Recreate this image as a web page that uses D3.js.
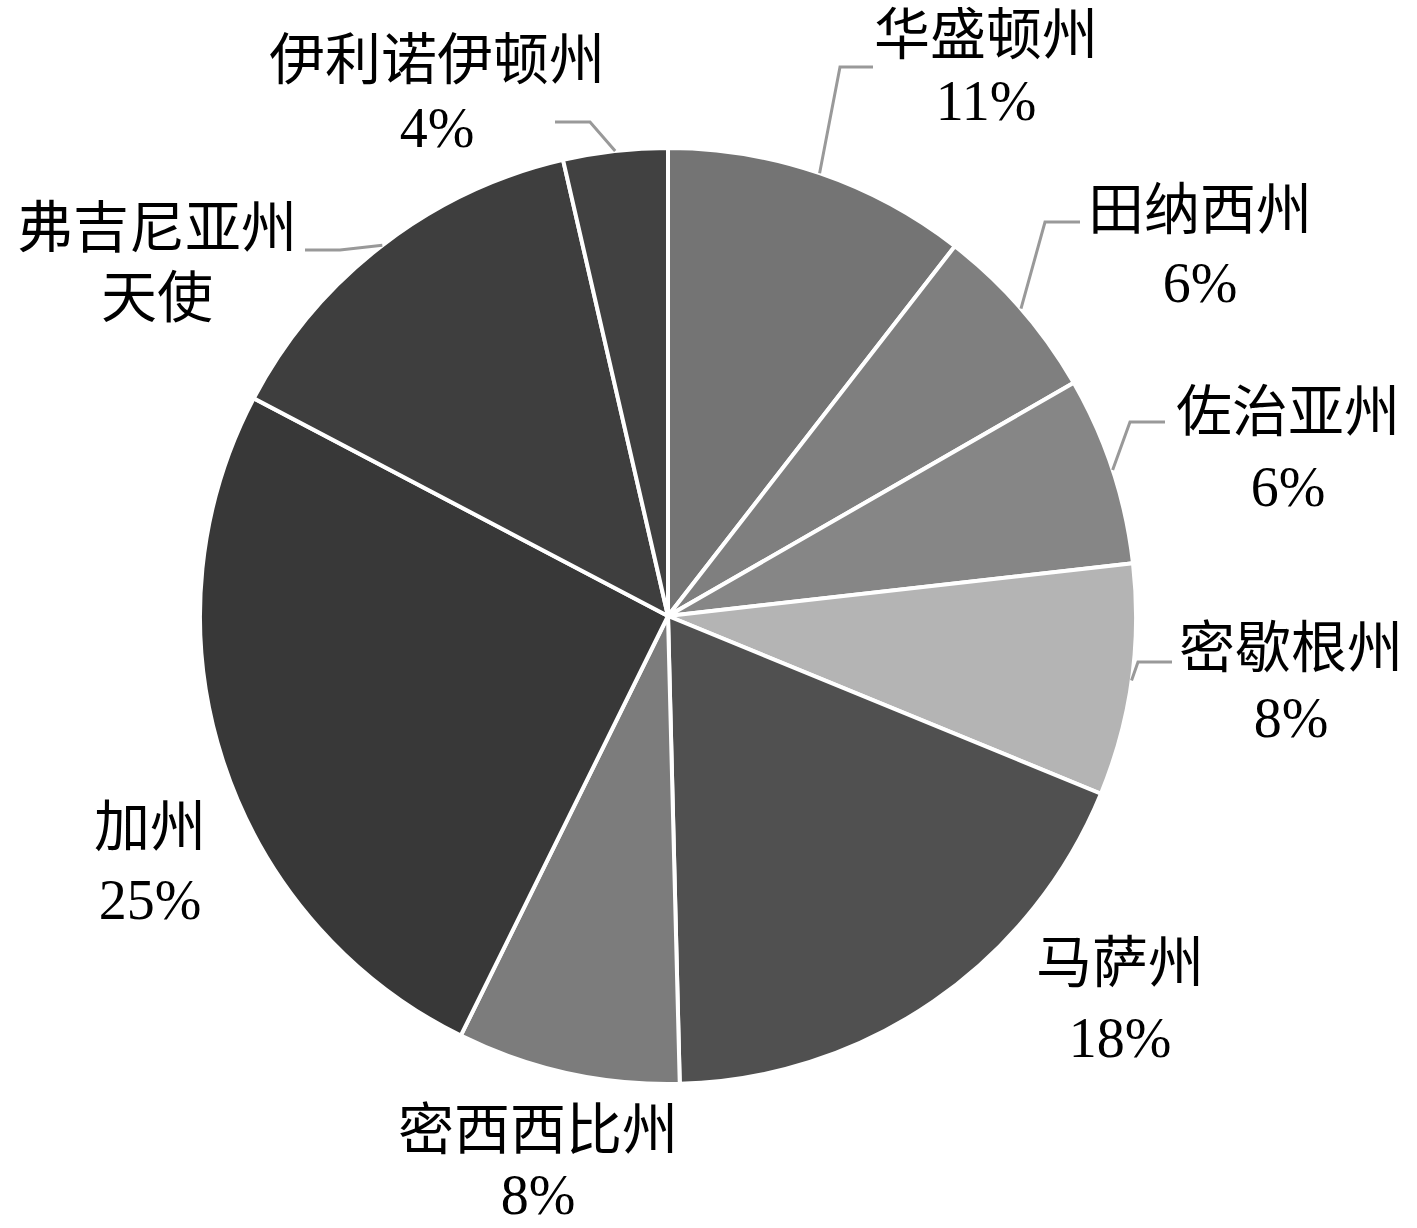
<!DOCTYPE html>
<html>
<head>
<meta charset="utf-8">
<script src="https://cdn.jsdelivr.net/npm/d3@7"></script>
<style>
  html, body { margin: 0; padding: 0; background: #fff; }
  svg { display: block; }
</style>
</head>
<body>
<svg id="chart"></svg>
<script>
// ─── Data ───
const states = ["华盛顿州", "田纳西州", "佐治亚州", "密歇根州", "马萨州", "密西西比州", "加州", "弗吉尼亚州", "伊利诺伊顿州"];
const shares = [10.5, 6.2, 6.5, 8.0, 18.4, 7.7, 25.4, 13.7, 3.6];
const secondLines = ["11%", "6%", "6%", "8%", "18%", "8%", "25%", "天使", "4%"];

// ─── Layout / style ───
const W = 1417, H = 1228;
const CX = 668, CY = 616, R = 468;
const fills = ["#747474", "#7f7f7f", "#868686", "#b4b4b4", "#505050", "#7c7c7c", "#383838", "#3e3e3e", "#414141"];
// label centre (x, y of first line), second line y; leader elbow + end (null = no leader)
const labelPos = [
  { x: 986, y: 35, y2: 101, leader: [[840, 67], [873, 67]] },
  { x: 1200, y: 210, y2: 283, leader: [[1045, 222], [1080, 222]] },
  { x: 1288, y: 412, y2: 487, leader: [[1130, 422], [1165, 422]] },
  { x: 1291, y: 648, y2: 718, leader: [[1138, 662], [1172, 662]] },
  { x: 1120, y: 963, y2: 1038, leader: null },
  { x: 538, y: 1130, y2: 1195, leader: null },
  { x: 150, y: 827, y2: 900, leader: null },
  { x: 157, y: 228, y2: 298, leader: [[340, 250], [305, 250]] },
  { x: 437, y: 60, y2: 128, leader: [[590, 122], [555, 122]] },
];

const svg = d3.select("#chart").attr("width", W).attr("height", H);

const slices = d3.pie().sort(null).value((d) => d)(shares);
const arc = d3.arc().innerRadius(0).outerRadius(R);

const g = svg.append("g").attr("transform", `translate(${CX},${CY})`);

g.selectAll("path.slice")
  .data(slices)
  .join("path")
  .attr("class", "slice")
  .attr("d", arc)
  .attr("fill", (d, i) => fills[i])
  .attr("stroke", "#fff")
  .attr("stroke-width", 4)
  .attr("stroke-linejoin", "round");

// ─── Leader lines: start at the slice's outer-edge midpoint ───
const edge = (d) => {
  const a = (d.startAngle + d.endAngle) / 2;
  return [CX + R * Math.sin(a), CY - R * Math.cos(a)];
};

svg.append("g")
  .selectAll("polyline")
  .data(slices.filter((d, i) => labelPos[i].leader))
  .join("polyline")
  .attr("points", (d) => [edge(d), ...labelPos[d.index].leader].map((p) => p.join(",")).join(" "))
  .attr("fill", "none")
  .attr("stroke", "#999")
  .attr("stroke-width", 3);

// ─── Labels ───
const font = "'Liberation Serif', 'Noto Sans CJK SC', serif";
const labels = svg.append("g")
  .attr("font-family", font)
  .attr("font-size", 56)
  .attr("fill", "#000")
  .attr("text-anchor", "middle");

labels.selectAll("text.name")
  .data(states)
  .join("text")
  .attr("class", "name")
  .attr("x", (d, i) => labelPos[i].x)
  .attr("y", (d, i) => labelPos[i].y)
  .attr("dominant-baseline", "central")
  .text((d) => d);

labels.selectAll("text.pct")
  .data(secondLines)
  .join("text")
  .attr("class", "pct")
  .attr("x", (d, i) => labelPos[i].x)
  .attr("y", (d, i) => labelPos[i].y2)
  .attr("dominant-baseline", "central")
  .text((d) => d);
</script>
</body>
</html>
